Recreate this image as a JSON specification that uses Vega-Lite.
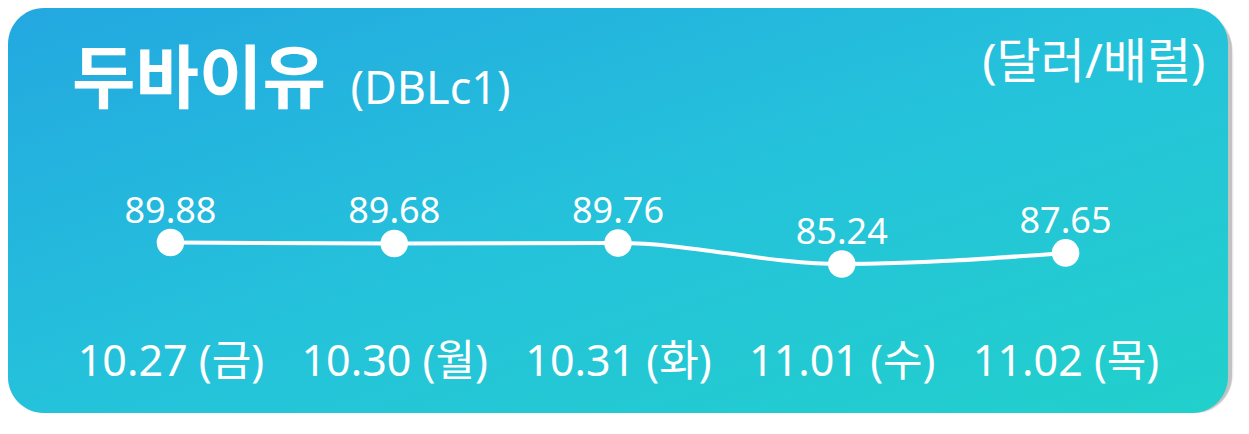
{
  "$schema": "https://vega.github.io/schema/vega-lite/v6.json",
  "width": 1220,
  "height": 405,
  "autosize": {"type": "none"},
  "padding": {"left": 8, "top": 8, "right": 21, "bottom": 21},
  "background": "#ffffff",
  "config": {"view": {"stroke": null}},
  "title": {
    "text": "두바이유",
    "anchor": "start",
    "frame": "group",
    "font": "'Noto Sans CJK KR'",
    "fontSize": 69,
    "fontWeight": "bold",
    "color": "#ffffff",
    "baseline": "alphabetic",
    "offset": -164,
    "dx": 64,
    "zindex": 2
  },
  "data": {
    "values": [
      {"date": "10.27 (금)", "price": 89.88},
      {"date": "10.30 (월)", "price": 89.68},
      {"date": "10.31 (화)", "price": 89.76},
      {"date": "11.01 (수)", "price": 85.24},
      {"date": "11.02 (목)", "price": 87.65}
    ]
  },
  "layer": [
    {"data": {"values": [{}]}, "mark": {"type": "rect", "cornerRadius": 36, "color": "#000000", "opacity": 0.1, "xOffset": 4, "x2Offset": 4, "yOffset": 4, "y2Offset": 4}},
    {"data": {"values": [{}]}, "mark": {"type": "rect", "cornerRadius": 38, "color": "#000000", "opacity": 0.07, "xOffset": 4, "x2Offset": 7, "yOffset": 4, "y2Offset": 7}},
    {"data": {"values": [{}]}, "mark": {"type": "rect", "cornerRadius": 40, "color": "#000000", "opacity": 0.05, "xOffset": 5, "x2Offset": 10, "yOffset": 5, "y2Offset": 10}},
    {"data": {"values": [{}]}, "mark": {"type": "rect", "cornerRadius": 42, "color": "#000000", "opacity": 0.03, "xOffset": 6, "x2Offset": 13, "yOffset": 6, "y2Offset": 13}},
    {
      "data": {"values": [{}]},
      "mark": {
        "type": "rect",
        "cornerRadius": 36,
        "opacity": 1,
        "fill": {
          "gradient": "linear",
          "x1": 0, "y1": 0, "x2": 1, "y2": 1,
          "stops": [
            {"offset": 0, "color": "#23A8E0"},
            {"offset": 0.5, "color": "#25C2DB"},
            {"offset": 1, "color": "#21D0CB"}
          ]
        }
      }
    },
    {
      "encoding": {
        "x": {
          "field": "date",
          "type": "ordinal",
          "sort": null,
          "scale": {"type": "point", "padding": 0.726},
          "axis": {
            "title": "(DBLc1)",
            "titleX": 342,
            "titleY": -310,
            "titleAlign": "left",
            "titleBaseline": "alphabetic",
            "titleFont": "'Noto Sans'",
            "titleFontSize": 45,
            "titleFontWeight": "normal",
            "titleColor": "#ffffff",
            "labelAngle": 0,
            "labelFont": "'Noto Sans', 'Noto Sans CJK KR'",
            "labelFontSize": 43,
            "labelColor": "#ffffff",
            "labelPadding": -38,
            "labelBaseline": "alphabetic",
            "labelOverlap": false,
            "labelLimit": 0,
            "domain": false,
            "ticks": false,
            "tickSize": 0,
            "grid": false,
            "zindex": 2
          }
        },
        "y": {
          "field": "price",
          "type": "quantitative",
          "scale": {"domain": [53.1, 140.5], "zero": false, "nice": false},
          "axis": {
            "title": "(달러/배럴)",
            "titleAngle": 0,
            "titleX": 1197,
            "titleY": 69,
            "titleAlign": "right",
            "titleBaseline": "alphabetic",
            "titleFont": "'Noto Sans', 'Noto Sans CJK KR'",
            "titleFontSize": 48,
            "titleFontWeight": "normal",
            "titleColor": "#ffffff",
            "labels": false,
            "ticks": false,
            "domain": false,
            "grid": false,
            "zindex": 2
          }
        }
      },
      "layer": [
        {"mark": {"type": "line", "color": "#ffffff", "strokeWidth": 4, "interpolate": "monotone"}},
        {"mark": {"type": "circle", "color": "#ffffff", "opacity": 1, "size": 760}},
        {
          "mark": {"type": "text", "color": "#ffffff", "font": "'Noto Sans'", "fontSize": 36, "baseline": "alphabetic", "dy": -20},
          "encoding": {"text": {"field": "price", "type": "quantitative", "format": ".2f"}}
        }
      ]
    }
  ]
}
